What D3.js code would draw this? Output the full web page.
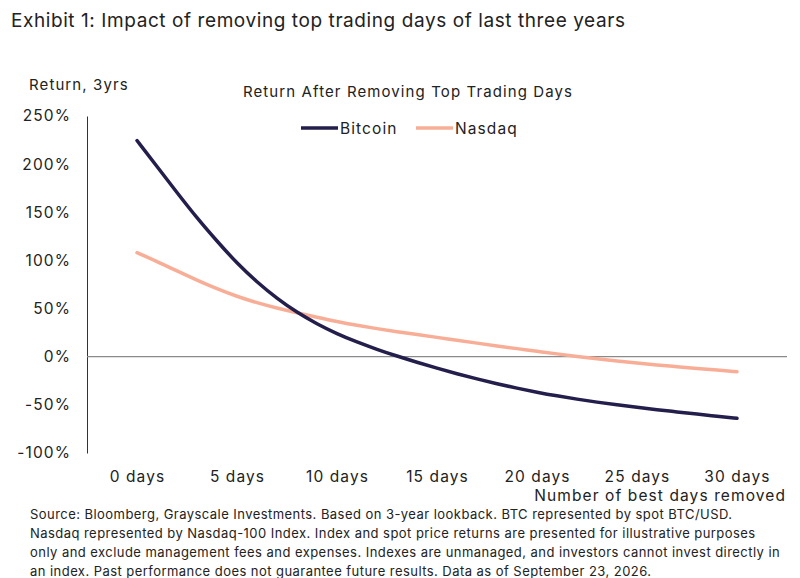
<!DOCTYPE html>
<html>
<head>
<meta charset="utf-8">
<script src="https://cdn.jsdelivr.net/npm/d3@7"></script>
<style>
  body { margin: 0; background: #fff; }
  svg { font-family: Inter, "Open Sans", sans-serif; }
</style>
</head>
<body>
<svg id="chart" width="800" height="578"></svg>
<script>
// values, one per day removed
const days = d3.range(0, 31);
const bitcoin = [224.5, 197.5, 170.5, 144, 120, 97, 77.5, 60.5, 46, 34, 23.8, 15.2, 7.6, 0.6, -5.8,
  -11.9, -17.7, -23.1, -28.1, -32.7, -36.9, -40.7, -44.1, -47.2, -50, -52.6, -55, -57.3, -59.6, -61.8, -64];
const nasdaq = [108, 99, 89, 79.5, 70.5, 62.6, 56, 50.5, 45.6, 41, 36.5, 32.6, 29.1, 25.9, 23.1,
  20.1, 17.1, 14.1, 11.2, 8.4, 5.7, 2.9, 0.3, -2.2, -4.5, -6.6, -8.6, -10.4, -12.2, -13.9, -15.5];
const xTicks = [0, 5, 10, 15, 20, 25, 30];
const yTicks = [-100, -50, 0, 50, 100, 150, 200, 250];
const seriesNames = ["Bitcoin", "Nasdaq"];
const colors = ["#231e4b", "#f8ae96"];

const footnote = [
  "Source: Bloomberg, Grayscale Investments. Based on 3-year lookback. BTC represented by spot BTC/USD.",
  "Nasdaq represented by Nasdaq-100 Index. Index and spot price returns are presented for illustrative purposes",
  "only and exclude management fees and expenses. Indexes are unmanaged, and investors cannot invest directly in",
  "an index. Past performance does not guarantee future results. Data as of September 23, 2026."
];

const svg = d3.select("#chart");
const x = d3.scaleLinear().domain([0, 30]).range([137, 737]);
const y = d3.scaleLinear().domain([-100, 250]).range([453, 116]);
const chartSpacing = "1.1px";

svg.append("text")
  .attr("x", 11).attr("y", 27)
  .attr("font-size", 19).attr("fill", "#222")
  .attr("letter-spacing", "0.58px")
  .text("Exhibit 1: Impact of removing top trading days of last three years");

svg.append("text")
  .attr("x", 29).attr("y", 90)
  .attr("font-size", 15).attr("fill", "#222")
  .attr("letter-spacing", chartSpacing)
  .text("Return, 3yrs");

svg.append("text")
  .attr("x", 408).attr("y", 97)
  .attr("text-anchor", "middle")
  .attr("font-size", 15).attr("fill", "#222")
  .attr("letter-spacing", chartSpacing)
  .text("Return After Removing Top Trading Days");

// y axis
const yAxis = svg.append("g")
  .attr("transform", "translate(87,0)")
  .call(d3.axisLeft(y).tickValues(yTicks).tickSize(0).tickPadding(16)
    .tickFormat(d => d + "%"));
yAxis.select(".domain").attr("stroke", "#333").attr("stroke-width", 1);
yAxis.selectAll("text")
  .attr("font-size", 15.5).attr("fill", "#222")
  .attr("letter-spacing", chartSpacing)
  .attr("font-family", "Inter, sans-serif");

// zero line
svg.append("line")
  .attr("x1", 87).attr("x2", 787)
  .attr("y1", y(0)).attr("y2", y(0))
  .attr("stroke", "#8a8a8a").attr("stroke-width", 1.3);

// x tick labels
svg.append("g")
  .selectAll("text")
  .data(xTicks)
  .enter()
  .append("text")
  .attr("x", d => x(d) + 0.5).attr("y", 482)
  .attr("text-anchor", "middle")
  .attr("font-size", 15.5).attr("fill", "#222")
  .attr("letter-spacing", chartSpacing)
  .text(d => d + " days");

svg.append("text")
  .attr("x", 786).attr("y", 501)
  .attr("text-anchor", "end")
  .attr("font-size", 15.5).attr("fill", "#222")
  .attr("letter-spacing", chartSpacing)
  .text("Number of best days removed");

// lines
const line = d3.line()
  .x((d, i) => x(days[i]))
  .y(d => y(d))
  .curve(d3.curveBasis);

[nasdaq, bitcoin].forEach((s, k) => {
  svg.append("path")
    .datum(s)
    .attr("d", line)
    .attr("fill", "none")
    .attr("stroke", k === 0 ? colors[1] : colors[0])
    .attr("stroke-width", 3.5)
    .attr("stroke-linecap", "round");
});

// legend
const legendX = [301, 416];
seriesNames.forEach((name, i) => {
  svg.append("line")
    .attr("x1", legendX[i]).attr("x2", legendX[i] + 37)
    .attr("y1", 128).attr("y2", 128)
    .attr("stroke", colors[i]).attr("stroke-width", 3.5);
  svg.append("text")
    .attr("x", legendX[i] + 39).attr("y", 134)
    .attr("font-size", 15.5).attr("fill", "#222")
    .attr("letter-spacing", chartSpacing)
    .text(name);
});

// footnote
svg.append("g")
  .selectAll("text")
  .data(footnote)
  .enter()
  .append("text")
  .attr("x", 30).attr("y", (d, i) => 519 + i * 19)
  .attr("font-size", 13).attr("fill", "#222")
  .attr("letter-spacing", "0.45px")
  .text(d => d);
</script>
</body>
</html>
